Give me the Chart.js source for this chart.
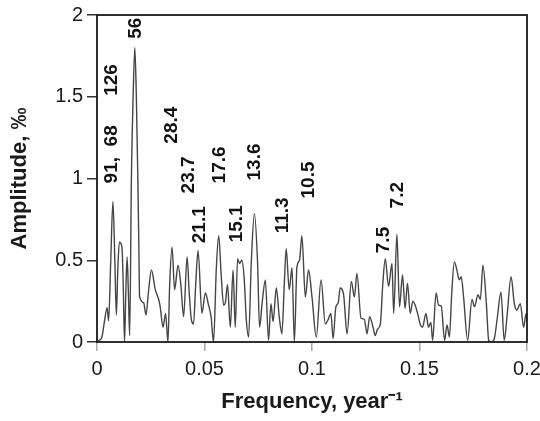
<!DOCTYPE html>
<html>
<head>
<meta charset="utf-8">
<script src="https://cdn.jsdelivr.net/npm/chart.js@4.4.1/dist/chart.umd.min.js"></script>
<style>
  html, body { margin: 0; padding: 0; background: #ffffff; }
  canvas { display: block; }
</style>
</head>
<body>
<canvas id="c" width="540" height="421"></canvas>
<script>
// Frequency (year^-1) of each traced point of the spectrum
const freq = [
  0.0000, 0.0011, 0.0023, 0.0034, 0.0047, 0.0054, 0.0064, 0.0074, 0.0083, 0.0090,
  0.0097, 0.0104, 0.0116, 0.0122, 0.0128, 0.0134, 0.0140, 0.0146, 0.0152, 0.0160,
  0.0169, 0.0176, 0.0183, 0.0190, 0.0195, 0.0198, 0.0217, 0.0228, 0.0239, 0.0253,
  0.0271, 0.0287, 0.0294, 0.0307, 0.0319, 0.0330, 0.0338, 0.0349, 0.0361, 0.0377,
  0.0390, 0.0403, 0.0419, 0.0429, 0.0439, 0.0449, 0.0459, 0.0470, 0.0488, 0.0504,
  0.0519, 0.0531, 0.0542, 0.0555, 0.0566, 0.0578, 0.0589, 0.0597, 0.0607, 0.0620,
  0.0633, 0.0643, 0.0654, 0.0663, 0.0674, 0.0685, 0.0694, 0.0705, 0.0718, 0.0732,
  0.0747, 0.0756, 0.0769, 0.0783, 0.0798, 0.0809, 0.0819, 0.0834, 0.0848, 0.0860,
  0.0871, 0.0880, 0.0894, 0.0907, 0.0918, 0.0930, 0.0942, 0.0953, 0.0969, 0.0984,
  0.1000, 0.1020, 0.1042, 0.1062, 0.1076, 0.1088, 0.1098, 0.1111, 0.1122, 0.1131,
  0.1147, 0.1163, 0.1183, 0.1197, 0.1209, 0.1228, 0.1243, 0.1256, 0.1268, 0.1284,
  0.1294, 0.1305, 0.1318, 0.1329, 0.1341, 0.1356, 0.1372, 0.1380, 0.1395, 0.1407,
  0.1421, 0.1433, 0.1444, 0.1457, 0.1469, 0.1480, 0.1493, 0.1504, 0.1514, 0.1530,
  0.1542, 0.1553, 0.1561, 0.1577, 0.1589, 0.1601, 0.1617, 0.1628, 0.1639, 0.1650,
  0.1662, 0.1674, 0.1685, 0.1694, 0.1705, 0.1724, 0.1744, 0.1756, 0.1772, 0.1783,
  0.1795, 0.1811, 0.1822, 0.1834, 0.1848, 0.1862, 0.1879, 0.1894, 0.1907, 0.1926,
  0.1941, 0.1953, 0.1969, 0.1984, 0.1996, 0.2000
];
// Amplitude (per mille) at each frequency
const amplitude = [
  0.00, 0.01, 0.03, 0.12, 0.21, 0.13, 0.50, 0.86, 0.50, 0.165,
  0.45, 0.61, 0.58, 0.35, 0.00, 0.30, 0.52, 0.30, 0.04, 1.00,
  1.55, 1.80, 1.50, 1.00, 0.55, 0.28, 0.24, 0.165, 0.30, 0.44,
  0.32, 0.26, 0.215, 0.09, 0.175, 0.00, 0.35, 0.58, 0.32, 0.47,
  0.35, 0.155, 0.52, 0.30, 0.135, 0.11, 0.35, 0.56, 0.175, 0.30,
  0.225, 0.15, 0.00, 0.45, 0.65, 0.40, 0.225, 0.24, 0.35, 0.09,
  0.44, 0.09, 0.51, 0.48, 0.50, 0.38, 0.145, 0.03, 0.50, 0.785,
  0.48, 0.09, 0.25, 0.38, 0.01, 0.235, 0.125, 0.33, 0.15, 0.05,
  0.35, 0.57, 0.32, 0.455, 0.00, 0.46, 0.50, 0.65, 0.275, 0.44,
  0.275, 0.03, 0.38, 0.11, 0.14, 0.175, 0.02, 0.215, 0.24, 0.33,
  0.29, 0.05, 0.37, 0.275, 0.42, 0.145, 0.14, 0.05, 0.155, 0.09,
  0.04, 0.08, 0.11, 0.35, 0.51, 0.34, 0.48, 0.175, 0.66, 0.215,
  0.41, 0.205, 0.36, 0.175, 0.25, 0.225, 0.165, 0.105, 0.09, 0.175,
  0.09, 0.12, 0.01, 0.30, 0.225, 0.22, 0.01, 0.105, 0.03, 0.30,
  0.49, 0.44, 0.38, 0.40, 0.275, 0.01, 0.26, 0.215, 0.29, 0.26,
  0.47, 0.235, 0.01, 0.00, 0.02, 0.15, 0.305, 0.01, 0.155, 0.40,
  0.235, 0.195, 0.235, 0.09, 0.175, 0.12
];
// Period labels (years) and their anchor (foot of the vertical text) in data units
const peakLabels = ['56', '126', '91,  68', '28.4', '23.7', '21.1', '17.6', '15.1', '13.6', '11.3', '10.5', '7.5', '7.2'];
const labelFreq  = [0.0178, 0.00665, 0.00665, 0.0346, 0.0425, 0.0480, 0.0573, 0.0648, 0.0736, 0.0866, 0.0983, 0.1332, 0.1397];
const labelAmp   = [1.854, 1.506, 0.970, 1.213, 0.909, 0.604, 0.970, 0.610, 0.988, 0.665, 0.878, 0.543, 0.817];
// Tick labels
const xTickLabels = ['0', '0.05', '0.1', '0.15', '0.2'];
const yTickLabels = ['0', '0.5', '1', '1.5', '2'];

const FONT = '"Liberation Sans", Arial, Helvetica, sans-serif';

const framePlugin = {
  id: 'frame',
  afterDraw(chart) {
    const {ctx, chartArea: a} = chart;
    ctx.save();
    ctx.strokeStyle = '#1a1a1a';
    ctx.lineWidth = 1.8;
    ctx.strokeRect(a.left, a.top, a.right - a.left, a.bottom - a.top);
    ctx.restore();
  }
};

const labelPlugin = {
  id: 'peakLabels',
  afterDatasetsDraw(chart) {
    const {ctx, scales} = chart;
    ctx.save();
    ctx.fillStyle = '#111111';
    ctx.font = 'bold 19px ' + FONT;
    ctx.textAlign = 'left';
    ctx.textBaseline = 'middle';
    peakLabels.forEach((t, i) => {
      const px = scales.x.getPixelForValue(labelFreq[i]);
      const py = scales.y.getPixelForValue(labelAmp[i]);
      ctx.save();
      ctx.translate(px, py);
      ctx.rotate(-Math.PI / 2);
      ctx.fillText(t, 0, 0);
      ctx.restore();
    });
    ctx.restore();
  }
};

new Chart(document.getElementById('c'), {
  type: 'line',
  data: {
    datasets: [{
      data: freq.map((f, i) => ({x: f, y: amplitude[i]})),
      borderColor: '#454545',
      borderWidth: 1.4,
      pointRadius: 0,
      fill: false,
      cubicInterpolationMode: 'monotone'
    }]
  },
  options: {
    responsive: false,
    animation: false,
    devicePixelRatio: 1,
    layout: { padding: { top: 15, right: 13, left: 0, bottom: 0 } },
    plugins: { legend: { display: false }, tooltip: { enabled: false } },
    scales: {
      x: {
        type: 'linear',
        min: 0, max: 0.2,
        afterFit: (s) => { s.height = 79; s.paddingLeft = 0; s.paddingRight = 0; },
        border: { display: false },
        grid: { drawOnChartArea: false, drawTicks: true, tickLength: 9, color: '#a8a8a8', lineWidth: 1.5 },
        ticks: {
          stepSize: 0.05,
          padding: 6,
          maxRotation: 0,
          color: '#1a1a1a',
          font: { family: FONT, size: 20 },
          callback: (v, i) => xTickLabels[i]
        },
        title: {
          display: true,
          text: 'Frequency, year\u207B\u00B9',
          color: '#1a1a1a',
          font: { family: FONT, size: 22, weight: 'bold' },
          padding: { top: 0, bottom: 6 }
        }
      },
      y: {
        min: 0, max: 2,
        afterFit: (s) => { s.width = 97; s.paddingTop = 0; s.paddingBottom = 0; },
        border: { display: false },
        grid: { drawOnChartArea: false, drawTicks: true, tickLength: 10, color: '#333333', lineWidth: 1.5 },
        ticks: {
          stepSize: 0.5,
          padding: 4,
          color: '#1a1a1a',
          font: { family: FONT, size: 20 },
          callback: (v, i) => yTickLabels[i]
        },
        title: {
          display: true,
          text: 'Amplitude, \u2030',
          color: '#1a1a1a',
          font: { family: FONT, size: 22, weight: 'bold' },
          padding: { top: 7, bottom: 0 }
        }
      }
    }
  },
  plugins: [framePlugin, labelPlugin]
});
</script>
</body>
</html>
